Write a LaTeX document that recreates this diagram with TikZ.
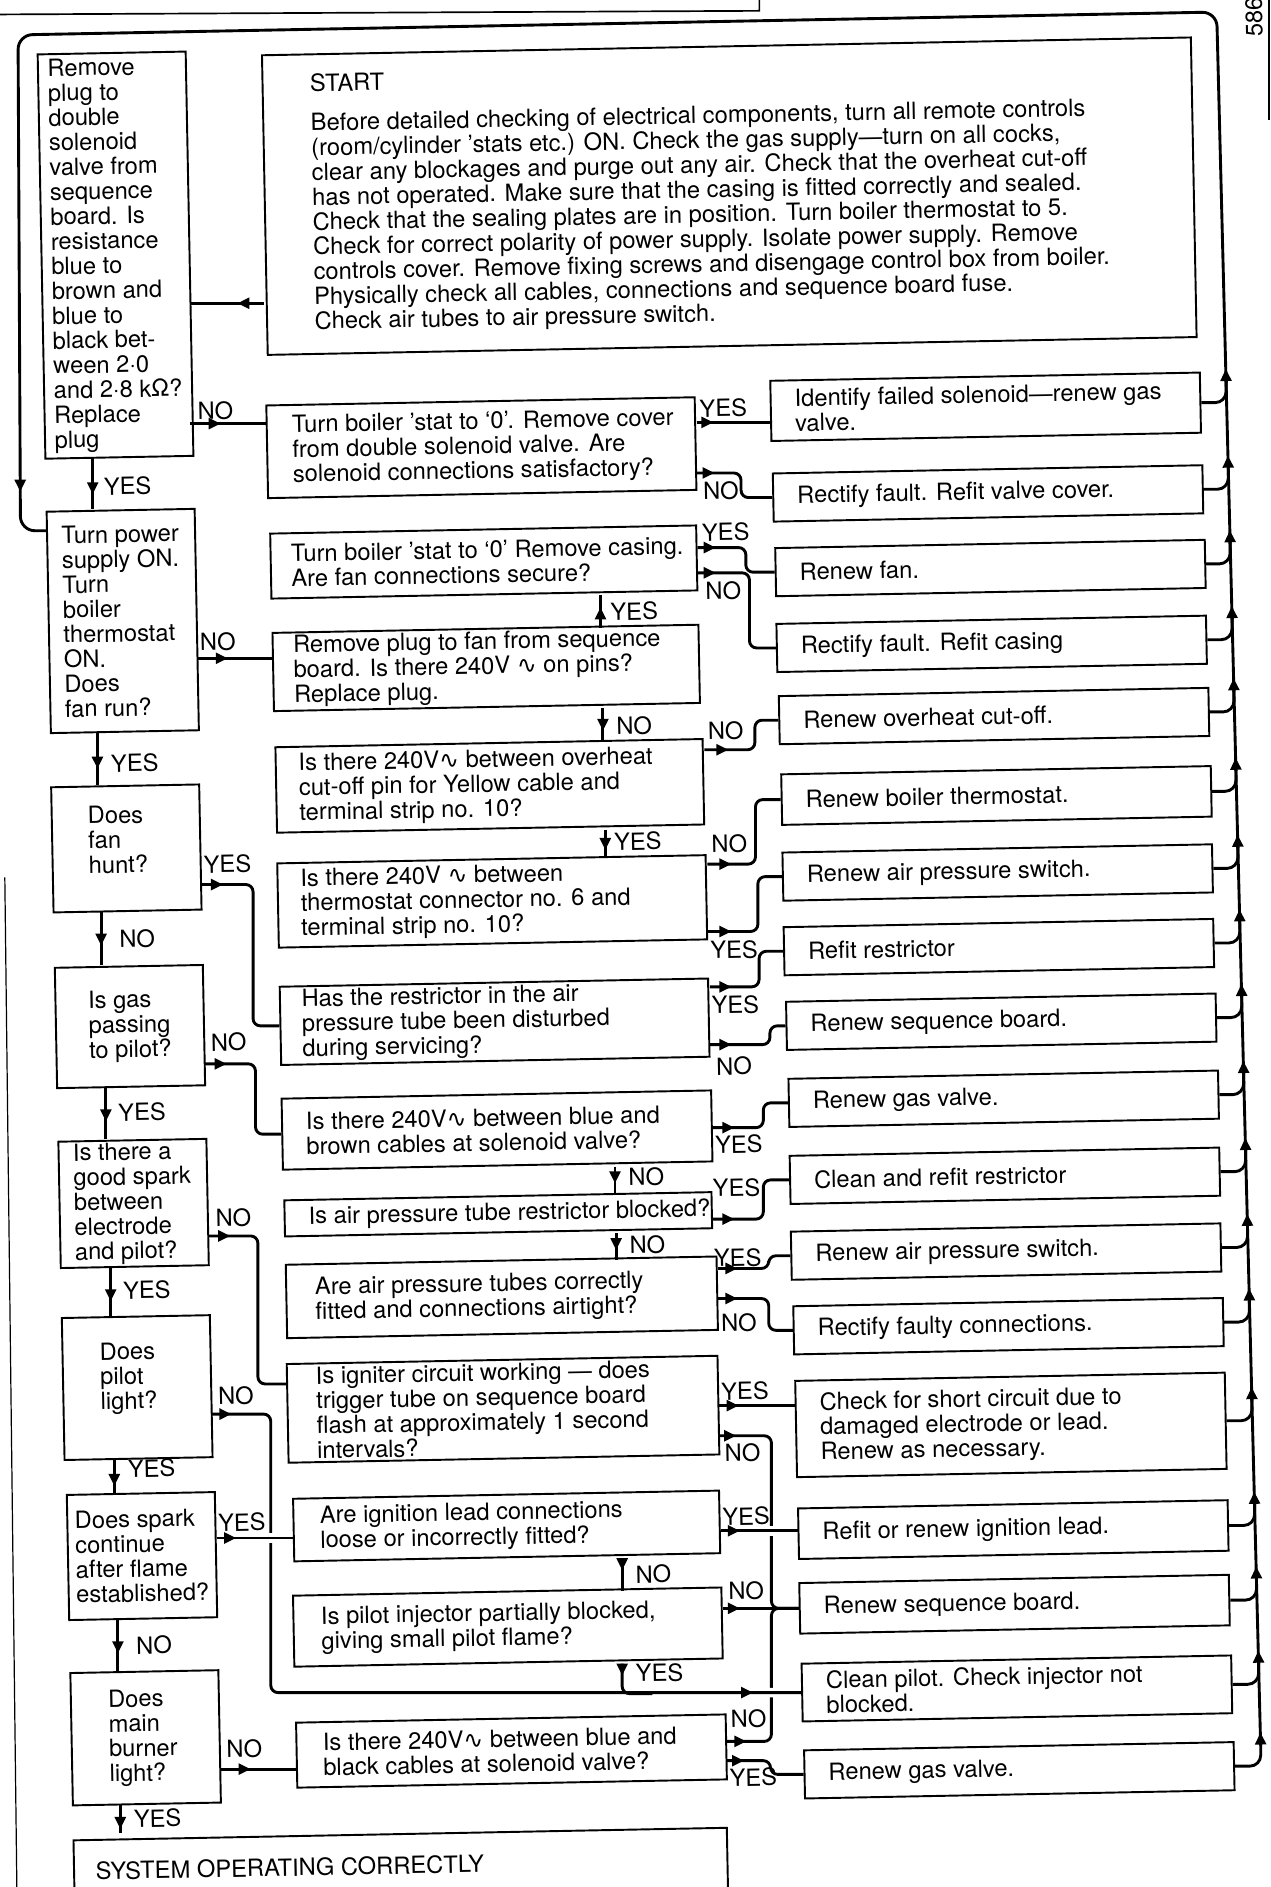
\documentclass[tikz,border=0pt]{standalone}
\usepackage{fontspec}
\setmainfont{TeX Gyre Heros}
\newfontfamily\djv{DejaVu Sans}
\usetikzlibrary{arrows.meta,decorations.markings}

\newcommand{\fsz}{\fontsize{19.7pt}{20.6pt}\selectfont}
\newcommand{\ac}{{\djv ∿}}
\newcommand{\fst}[2]{\makebox[#1][l]{#2}}
\newcommand{\lift}[1]{\rule[-#1]{0pt}{0pt}}

\tikzset{
  box/.style 2 args={draw, line width=1.6pt, rotate=1.1, align=left,
    inner sep=0pt, minimum width=#1, minimum height=#2},
  lab/.style={inner sep=0pt, rotate=1.1},
  con/.style={line width=2.4pt, rounded corners=6pt},
  gap/.style={preaction={draw, white, line width=8pt, shorten <=4pt, shorten >=4pt}},
  ar/.style={postaction={decorate, decoration={markings,
    mark=at position #1 with {\arrow{>}}}}},
}

\begin{document}
\begin{tikzpicture}[x=1pt,y=-1pt,>={Triangle[length=10pt,width=9pt]},
  every node/.style={font=\fsz}]
\useasboundingbox (0,0) rectangle (1056,1568);

% page edges
\draw[line width=1.4pt] (0,12) -- (631,9) -- (631,0);
\draw[line width=1.2pt] (1054.5,0) -- (1054.5,100);
\draw[line width=1pt] (4,729) -- (14,1568);
\node[lab, rotate=90] (pg) at (1042,14) {586};

% start
\node[box={772pt}{249pt}] (start) at (606,163) {\fst{693pt}{START}\\[12pt]
Before detailed checking of electrical components, turn all remote controls\\
(room/cylinder ’stats etc.) ON. Check the gas supply—turn on all cocks,\\
clear any blockages and purge out any air. Check that the overheat cut-off\\
has not operated. Make sure that the casing is fitted correctly and sealed.\\
Check that the sealing plates are in position. Turn boiler thermostat to 5.\\
Check for correct polarity of power supply. Isolate power supply. Remove\\
controls cover. Remove fixing screws and disengage control box from boiler.\\
Physically check all cables, connections and sequence board fuse.\\
Check air tubes to air pressure switch.};

% left column
\node[box={123pt}{336pt}] (l1) at (96,212) {\fst{105pt}{Remove}\\plug to\\double\\solenoid\\valve from\\sequence\\board. Is\\resistance\\blue to\\brown and\\blue to\\black bet-\\ween 2·0\\and 2·8 kΩ?\\Replace\\plug};
\node[box={123pt}{184pt}] (l2) at (102,516) {\fst{99pt}{Turn power}\\supply ON.\\Turn\\boiler\\thermostat\\ON.\\Does\\fan run?};
\node[box={123pt}{104pt}] (l3) at (105,705) {\fst{63pt}{Does}\\fan\\hunt?\lift{15pt}};
\node[box={123pt}{100pt}] (l4) at (108,853) {\fst{63pt}{Is gas}\\passing\\to pilot?};
\node[box={123pt}{105pt}] (l5) at (111,1000) {\fst{99pt}{Is there a}\\good spark\\between\\electrode\\and pilot?};
\node[box={123pt}{118pt}] (l6) at (114,1153) {\fst{61pt}{Does}\\pilot\\light?\lift{20pt}};
\node[box={123pt}{104pt}] (l7) at (118,1293) {\fst{103pt}{Does spark}\\continue\\after flame\\established?};
\node[box={123pt}{110pt}] (l8) at (121,1444) {\fst{61pt}{Does}\\main\\burner\\light?};
\node[box={543pt}{52pt}] (l9) at (333,1550) {\fst{507pt}{SYSTEM OPERATING CORRECTLY}};

% middle column
\node[box={356pt}{77pt}] (m1) at (400,372) {\fst{314pt}{Turn boiler ’stat to ‘0’. Remove cover}\\from double solenoid valve. Are\\solenoid connections satisfactory?};
\node[box={354pt}{54pt}] (m2) at (402,467) {\fst{320pt}{Turn boiler ’stat to ‘0’ Remove casing.}\\Are fan connections secure?};
\node[box={354pt}{65pt}] (m3) at (404,555) {\fst{320pt}{Remove plug to fan from sequence}\\board. Is there 240V \ac{} on pins?\\Replace plug.};
\node[box={355pt}{71pt}] (m4) at (407,653) {\fst{317pt}{Is there 240V\ac{} between overheat}\\cut-off pin for Yellow cable and\\terminal strip no. 10?};
\node[box={356pt}{70pt}] (m5) at (409,749) {\fst{318pt}{Is there 240V \ac{} between}\\thermostat connector no. 6 and\\terminal strip no. 10?};
\node[box={356pt}{65pt}] (m6) at (411,849) {\fst{320pt}{Has the restrictor in the air}\\pressure tube been disturbed\\during servicing?};
\node[box={357pt}{59pt}] (m7) at (413,939) {\fst{317pt}{Is there 240V\ac{} between blue and}\\brown cables at solenoid valve?};
\node[box={355pt}{30pt}] (m8) at (414,1009) {\fst{315pt}{Is air pressure tube restrictor blocked?}};
\node[box={358pt}{61pt}] (m9) at (417,1078) {\fst{310pt}{Are air pressure tubes correctly}\\fitted and connections airtight?};
\node[box={358pt}{82pt}] (m10) at (418,1171) {\fst{310pt}{Is igniter circuit working — does}\\trigger tube on sequence board\\flash at approximately 1 second\\intervals?};
\node[box={354pt}{52pt}] (m11) at (421,1268) {\fst{310pt}{Are ignition lead connections}\\loose or incorrectly fitted?};
\node[box={356pt}{59pt}] (m12) at (422,1352) {\fst{310pt}{Is pilot injector partially blocked,}\\giving small pilot flame?};
\node[box={357pt}{54pt}] (m13) at (425,1455) {\fst{313pt}{Is there 240V\ac{} between blue and}\\black cables at solenoid valve?};

% right column
\node[box={357pt}{50pt}] (r1) at (819,338) {\fst{317pt}{Identify failed solenoid—renew gas}\\valve.};
\node[box={357pt}{40pt}] (r2) at (821,410) {\fst{317pt}{Rectify fault. Refit valve cover.}};
\node[box={357pt}{40pt}] (r3) at (823,472) {\fst{317pt}{Renew fan.}};
\node[box={357pt}{40pt}] (r4) at (824,535) {\fst{317pt}{Rectify fault. Refit casing}};
\node[box={357pt}{40pt}] (r5) at (826,595) {\fst{317pt}{Renew overheat cut-off.}};
\node[box={357pt}{42pt}] (r6) at (828,661) {\fst{317pt}{Renew boiler thermostat.}};
\node[box={357pt}{40pt}] (r7) at (829,725) {\fst{317pt}{Renew air pressure switch.}};
\node[box={357pt}{40pt}] (r8) at (830,787) {\fst{317pt}{Refit restrictor}};
\node[box={357pt}{40pt}] (r9) at (832,849) {\fst{317pt}{Renew sequence board.}};
\node[box={357pt}{40pt}] (r10) at (834,913) {\fst{317pt}{Renew gas valve.}};
\node[box={357pt}{40pt}] (r11) at (835,977) {\fst{317pt}{Clean and refit restrictor}};
\node[box={357pt}{40pt}] (r12) at (836,1040) {\fst{317pt}{Renew air pressure switch.}};
\node[box={357pt}{40pt}] (r13) at (838,1102) {\fst{317pt}{Rectify faulty connections.}};
\node[box={357pt}{80pt}] (r14) at (840,1184) {\fst{317pt}{Check for short circuit due to}\\damaged electrode or lead.\\Renew as necessary.};
\node[box={357pt}{42pt}] (r15) at (842,1271) {\fst{317pt}{Refit or renew ignition lead.}};
\node[box={357pt}{42pt}] (r16) at (843,1333) {\fst{317pt}{Renew sequence board.}};
\node[box={357pt}{48pt}] (r17) at (845,1403) {\fst{317pt}{Clean pilot. Check injector not}\\blocked.};
\node[box={357pt}{40pt}] (r18) at (847,1471) {\fst{317pt}{Renew gas valve.}};

% return line
\coordinate (rb) at (1047.5,1449.6);
\coordinate (rt) at (1011,10);
\coordinate (lt) at (15,29);
\coordinate (lb) at (17,441);
\draw[con, rounded corners=12pt, ar=-50pt] (rb) -- (rt) -- (lt) -- (lb) -- (l2.west |- lb);
\foreach \r/\yy in {r1/338,r2/410,r3/472,r4/535,r5/595,r6/661,r7/725,r8/787,r9/849,
  r10/913,r11/977,r12/1040,r13/1102,r14/1184,r15/1271,r16/1333,r17/1403,r18/1471}{
  \pgfmathsetmacro{\yj}{\yy-21.4}
  \pgfmathsetmacro{\xj}{1011+(\yj-10)*0.0254}
  \draw[con, rounded corners=9pt] (\r.east) -| (\xj,\yj);
  \draw[con, ->] (\xj,\yj+1) -- (\xj-0.25,\yj-10);
}

% left column links
\draw[con, ar=22pt] (start.west |- 0,252) -- (l1.east |- 0,252);
\draw[con, ar=25pt] (l1.east |- 0,352) -- (m1.west |- 0,352);
\node[lab] (n1) at (179,341) {NO};
\draw[con, ar=30pt] (l1.south -| 77,0) -- (l2.north -| 77,0);
\node[lab] (y1) at (106,404) {YES};
\draw[con, ar=25pt] (l2.east |- 0,547) -- (m3.west |- 0,547);
\node[lab] (n4) at (181,533) {NO};
\draw[con, ar=30pt] (l2.south -| 81,0) -- (l3.north -| 81,0);
\node[lab] (y15) at (112,634) {YES};
\draw[con, ar=18pt] (l3.east |- 0,735) -- ++(43,0) |- (m6.west);
\node[lab] (y7) at (189,718) {YES};
\draw[con, ar=28pt] (l3.south -| 84,0) -- (l4.north -| 84,0);
\node[lab] (n9) at (114,780) {NO};
\draw[con, ar=18pt] (l4.east |- 0,884) -- ++(42,0) |- (m7.west);
\node[lab] (n10) at (190,866) {NO};
\draw[con, ar=28pt] (l4.south -| 88,0) -- (l5.north -| 88,0);
\node[lab] (y9) at (118,924) {YES};
\draw[con, ar=18pt] (l5.east |- 0,1027) -- ++(41,0) |- (m10.west |- 0,1150);
\node[lab] (n14) at (194,1012) {NO};
\draw[con, ar=28pt] (l5.south -| 92,0) -- (l6.north -| 92,0);
\node[lab] (y13) at (122,1072) {YES};
\draw[con, ar=22pt] (l6.south -| 95,0) -- (l7.north -| 95,0);
\node[lab] (y16) at (126,1220) {YES};
\draw[con, ar=28pt] (l7.south -| 98,0) -- (l8.north -| 98,0);
\node[lab] (n15) at (128,1367) {NO};
\draw[con, ar=25pt] (l8.east |- 0,1470) -- (m13.west |- 0,1470);
\node[lab] (n16) at (203,1453) {NO};
\draw[con, ar=20pt] (l8.south -| 100,0) -- (l9.north -| 100,0);
\node[lab] (y17) at (131,1511) {YES};

% middle column links
\draw[con, ar=14pt] (m1.east |- 0,351) -- (r1.west |- 0,351);
\node[lab] (y2) at (601,339) {YES};
\draw[con, ar=15pt] (m1.east |- 0,393) -- ++(37,0) |- (r2.west);
\node[lab] (n2) at (599,408) {NO};
\draw[con, ar=15pt] (m2.east |- 0,455) -- ++(40,0) |- (r3.west);
\node[lab] (y3) at (603,442) {YES};
\draw[con, ar=15pt] (m2.east |- 0,476) -- ++(43,0) |- (r4.west);
\node[lab] (n3) at (601,491) {NO};
\draw[con, ar=17pt] (m3.north -| 499,0) -- (m2.south -| 499,0);
\node[lab] (y4) at (527,508) {YES};
\draw[con, ar=19pt] (m3.south -| 501,0) -- (m4.north -| 501,0);
\node[lab] (n5) at (527,603) {NO};
\draw[con, ar=20pt] (m4.east |- 0,623) -- ++(42,0) |- (r5.west);
\node[lab] (n6) at (603,607) {NO};
\draw[con, ar=17pt] (m4.south -| 503,0) -- (m5.north -| 503,0);
\node[lab] (y5) at (530,699) {YES};
\draw[con, ar=20pt] (m5.east |- 0,718) -- ++(40,0) |- (r6.west);
\node[lab] (n7) at (606,701) {NO};
\draw[con, ar=20pt] (m5.east |- 0,774) -- ++(42,0) |- (r7.west);
\node[lab] (y6) at (610,789) {YES};
\draw[con, ar=18pt] (m6.east |- 0,820) -- ++(41,0) |- (r8.west);
\node[lab] (y8) at (611,835) {YES};
\draw[con, ar=18pt] (m6.east |- 0,868) -- ++(50,0) |- (r9.west);
\node[lab] (n8) at (610,886) {NO};
\draw[con, ar=18pt] (m7.east |- 0,937) -- ++(42,0) |- (r10.west);
\node[lab] (y10) at (614,951) {YES};
\draw[con, ar=14pt] (m7.south -| 511,0) -- (m8.north -| 511,0);
\node[lab] (n11) at (537,978) {NO};
\draw[con, ar=18pt] (m8.east |- 0,1013) -- ++(42,0) |- (r11.west);
\node[lab] (y11) at (612,987) {YES};
\draw[con, ar=14pt] (m8.south -| 512,0) -- (m9.north -| 512,0);
\node[lab] (n12) at (538,1034) {NO};
\draw[con, ar=16pt] (m9.east |- 0,1054) -- ++(42,0) |- (r12.west);
\node[lab] (y12) at (613,1045) {YES};
\draw[con, ar=16pt] (m9.east |- 0,1079) -- ++(42,0) |- (r13.west);
\node[lab] (n13) at (614,1099) {NO};
\draw[con, ar=16pt] (m10.east |- 0,1168) -- (r14.west |- 0,1168);
\node[lab] (y14) at (619,1156) {YES};

% ignition group
\draw[con, ar=14pt] (m10.east |- 0,1193) -| (r16.west -| 641,0) -- (r16.west);
\node[lab] (n17) at (617,1207) {NO};
\draw[con, ar=16pt] (m13.east |- 0,1447) -| (r16.west -| 641,0) -- (r16.west);
\node[lab] (n18) at (622,1428) {NO};
\draw[con, ar=14pt] (m12.east |- r16.west) -- (r16.west);
\node[lab] (n19) at (620,1322) {NO};
\draw[con, ar=14pt] (m13.east |- 0,1463) -- ++(36,0) |- (r18.west);
\node[lab] (y18) at (626,1477) {YES};
\draw[con, gap, ar=16pt, ar=-40pt] (l6.east |- 0,1175) -| (r17.west -| 225,0) -- (r17.west);
\node[lab] (n20) at (196,1160) {NO};
\draw[con, ar=10pt] (m12.south -| 517,0) |- ++(25,25);
\node[lab] (y19) at (548,1390) {YES};
\draw[con, gap, ar=16pt] (l7.east |- 0,1278) -- (m11.west |- 0,1278);
\node[lab] (y20) at (201,1265) {YES};
\draw[con, gap, ar=16pt] (m11.east |- 0,1272) -- (r15.west |- 0,1272);
\node[lab] (y21) at (620,1260) {YES};
\draw[con, ar=10pt] (m11.south -| 517,0) -- (m12.north -| 517,0);
\node[lab] (n21) at (543,1308) {NO};

\end{tikzpicture}
\end{document}
